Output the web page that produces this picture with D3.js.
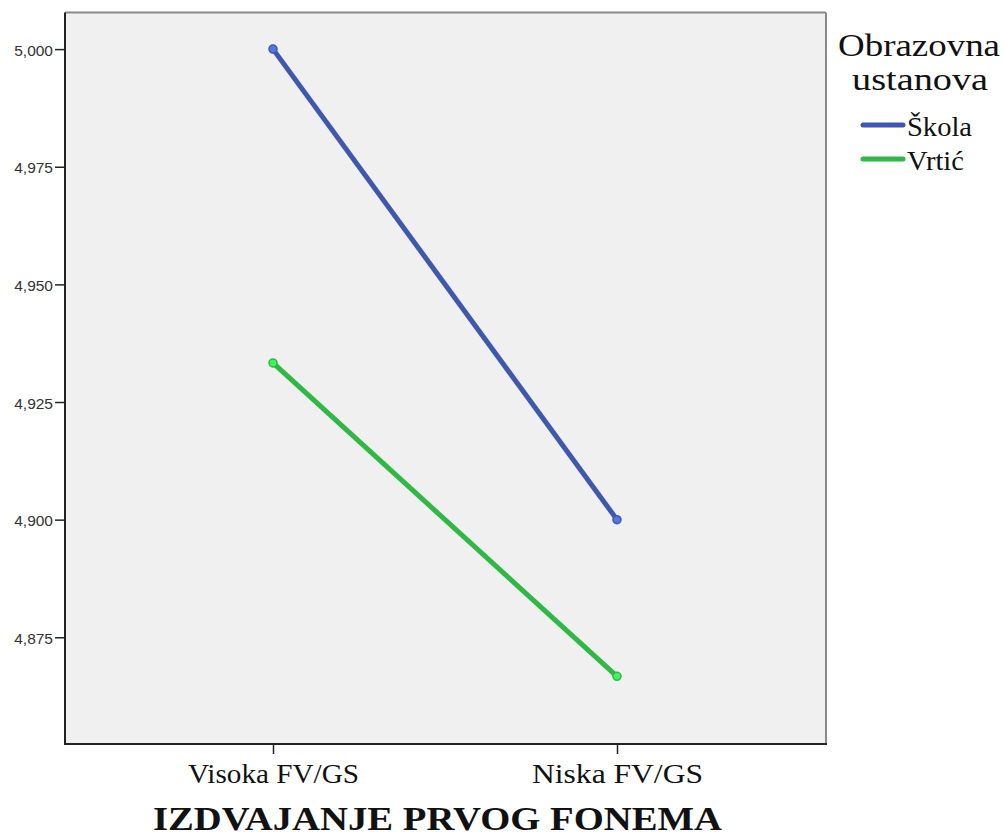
<!DOCTYPE html>
<html><head><meta charset="utf-8">
<script src="https://cdn.jsdelivr.net/npm/d3@7"></script>
<style>body{margin:0;background:#fff;} svg{display:block;}</style>
</head><body>
<svg id="c" width="1005" height="839"></svg>
<script>
const categories = ["Visoka FV/GS", "Niska FV/GS"];
const seriesNames = ["Škola", "Vrtić"];
const skola = [5.000, 4.900];
const vrtic = [4.9333, 4.8667];
const yTicks = [4.875, 4.900, 4.925, 4.950, 4.975, 5.000];
const colors = ["#3f58ad", "#2fb845"];

const svg = d3.select("#c");
const L = 65, R = 826, T = 12.5, B = 744;
const x = d3.scalePoint().domain(categories).range([273, 617]);
const y = d3.scaleLinear().domain([4.85232, 5.00778]).range([B, T]);
const serif = "Liberation Serif, Times New Roman, serif";

svg.append("rect").attr("x", L).attr("y", T).attr("width", R - L).attr("height", B - T).attr("fill", "#f0f0f0");
svg.append("line").attr("x1", L).attr("x2", R).attr("y1", T).attr("y2", T).attr("stroke", "#8a8a8a").attr("stroke-width", 2);
svg.append("line").attr("x1", R).attr("x2", R).attr("y1", T).attr("y2", B).attr("stroke", "#8a8a8a").attr("stroke-width", 2);

const fmt = d => d3.format(".3f")(d).replace(".", ",");
const yAxis = d3.axisLeft(y).tickValues(yTicks).tickFormat(fmt).tickSize(10).tickPadding(2);
const gy = svg.append("g").attr("transform", `translate(${L},0)`).call(yAxis);
gy.select(".domain").remove();
gy.selectAll("line").attr("stroke", "#222").attr("stroke-width", 1.5);
gy.selectAll("text").attr("font-family", "Liberation Sans, Arial, sans-serif").attr("font-size", 15.5).attr("fill", "#333").attr("dy", "0.4em");

const xAxis = d3.axisBottom(x).tickSize(10).tickPadding(0);
const gx = svg.append("g").attr("transform", `translate(0,${B})`).call(xAxis);
gx.select(".domain").remove();
gx.selectAll("line").attr("stroke", "#222").attr("stroke-width", 1.5);
gx.selectAll("text").attr("font-family", serif).attr("font-size", 27).attr("fill", "#111")
  .attr("dy", 0).attr("y", 39).attr("textLength", 171).attr("lengthAdjust", "spacingAndGlyphs");

svg.append("line").attr("x1", L).attr("x2", L).attr("y1", T).attr("y2", B + 1).attr("stroke", "#222").attr("stroke-width", 2);
svg.append("line").attr("x1", L).attr("x2", R + 1).attr("y1", B).attr("y2", B).attr("stroke", "#222").attr("stroke-width", 2);

const data = [skola, vrtic];
const line = d3.line().x((d, i) => x(categories[i])).y(d => y(d));
data.forEach((s, k) => {
  svg.append("path").datum(s).attr("d", line).attr("fill", "none").attr("stroke", colors[k]).attr("stroke-width", 5);
  svg.selectAll(null).data(s).enter().append("circle")
    .attr("cx", (d, i) => x(categories[i])).attr("cy", d => y(d)).attr("r", 4)
    .attr("fill", d3.color(colors[k]).brighter(0.8)).attr("stroke", colors[k]).attr("stroke-width", 1.5);
});

svg.append("text").attr("x", 437.5).attr("y", 830).attr("text-anchor", "middle")
  .attr("font-family", serif).attr("font-size", 34).attr("font-weight", "bold")
  .attr("fill", "#111").attr("textLength", 569).attr("lengthAdjust", "spacingAndGlyphs").text("IZDVAJANJE PRVOG FONEMA");

// legend
svg.append("text").attr("x", 919).attr("y", 56).attr("text-anchor", "middle")
  .attr("font-family", serif).attr("font-size", 32).attr("fill", "#111").attr("textLength", 162).attr("lengthAdjust", "spacingAndGlyphs").text("Obrazovna");
svg.append("text").attr("x", 920).attr("y", 90).attr("text-anchor", "middle")
  .attr("font-family", serif).attr("font-size", 32).attr("fill", "#111").attr("textLength", 136).attr("lengthAdjust", "spacingAndGlyphs").text("ustanova");
seriesNames.forEach((n, k) => {
  const yy = 125 + k * 34;
  svg.append("line").attr("x1", 863).attr("x2", 903).attr("y1", yy).attr("y2", yy).attr("stroke", colors[k]).attr("stroke-width", 5).attr("stroke-linecap", "round");
  svg.append("text").attr("x", 907).attr("y", yy + 11).attr("font-family", serif)
    .attr("font-size", 27).attr("fill", "#111").attr("textLength", n === "Škola" ? 65 : 57).attr("lengthAdjust", "spacingAndGlyphs").text(n);
});
</script>
</body></html>
